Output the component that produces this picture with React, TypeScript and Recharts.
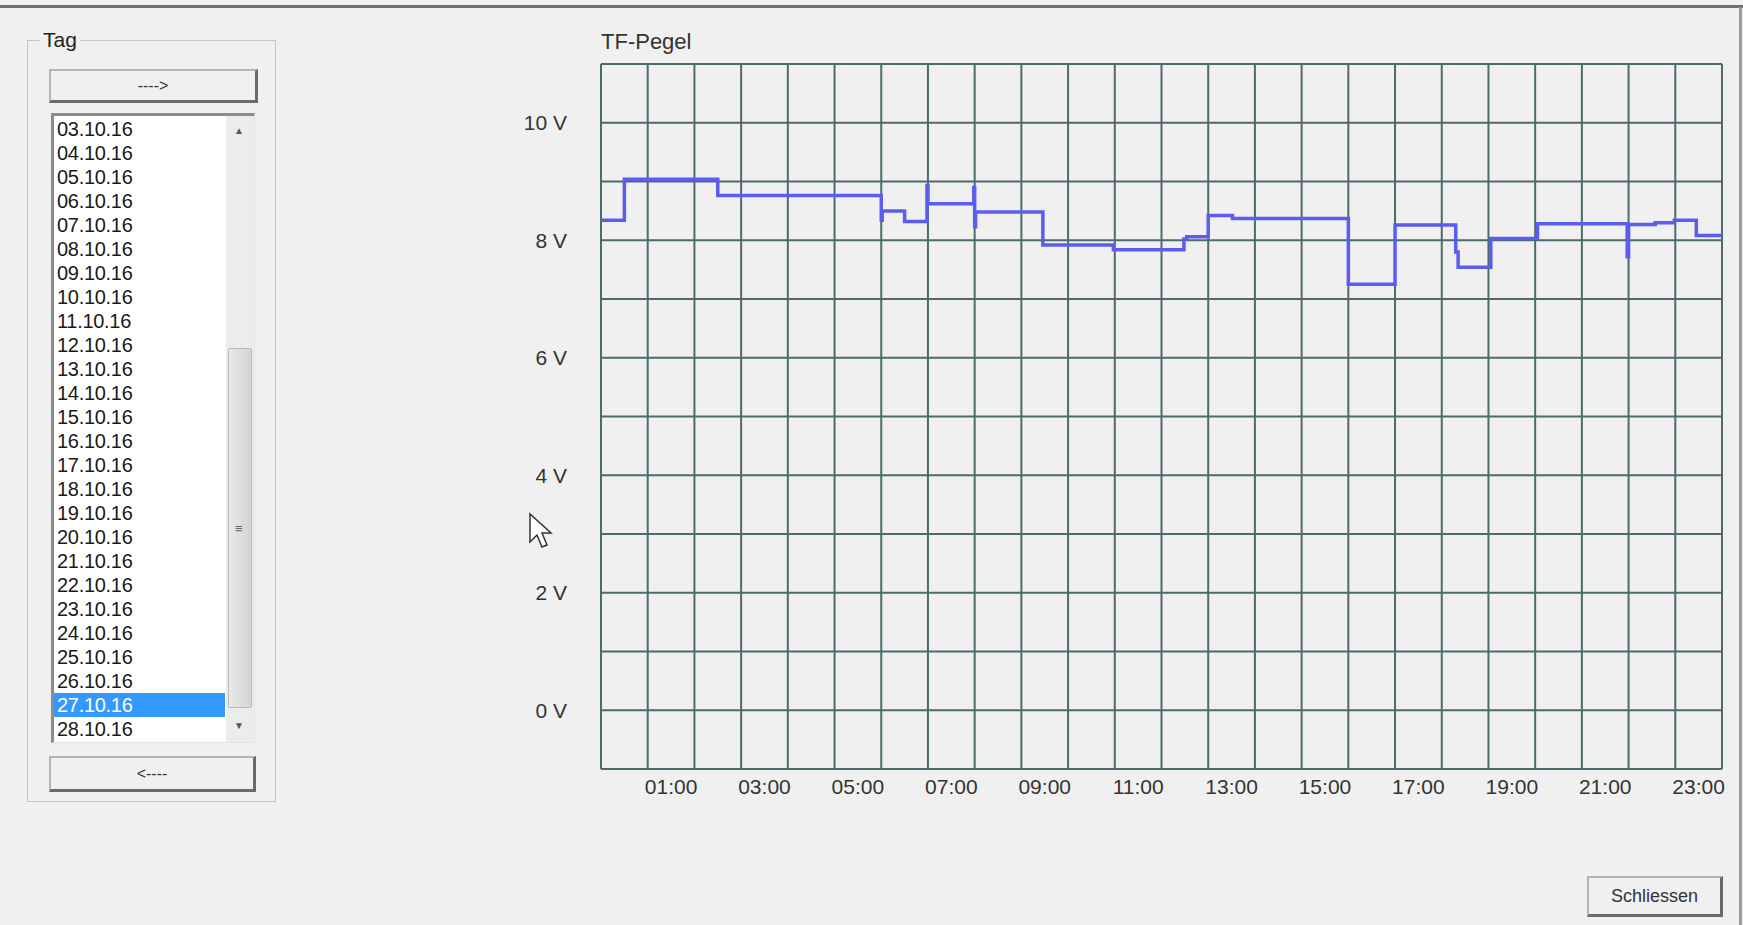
import React from "react";
import { LineChart, Line, XAxis, YAxis, ReferenceLine } from "recharts";

// step points of the TF level (hours, volts)
const hours = [
  -0.5, 0.0, 2.0, 5.5, 5.52, 6.0, 6.48, 6.5, 7.48, 7.5, 7.52, 8.96, 10.47,
  11.98, 12.04, 12.5, 13.02, 15.5, 16.5, 17.8, 17.85, 18.55, 19.55, 21.47,
  21.5, 22.07, 22.48, 22.95, 23.5,
];
const volts = [
  8.34, 9.04, 8.76, 8.34, 8.5, 8.32, 8.93, 8.62, 8.9, 8.23, 8.48, 7.92, 7.84,
  8.02, 8.06, 8.42, 8.37, 7.25, 8.26, 7.8, 7.54, 8.03, 8.28, 7.72, 8.27, 8.3,
  8.34, 8.08, 8.08,
];

const hourTicks = [1, 3, 5, 7, 9, 11, 13, 15, 17, 19, 21, 23];
const hourLabels = ["01:00", "03:00", "05:00", "07:00", "09:00", "11:00", "13:00", "15:00", "17:00", "19:00", "21:00", "23:00"];
const voltTicks = [0, 2, 4, 6, 8, 10];
const voltLabels = ["0 V", "2 V", "4 V", "6 V", "8 V", "10 V"];

const gridX = [
  -0.5, 0.5, 1.5, 2.5, 3.5, 4.5, 5.5, 6.5, 7.5, 8.5, 9.5, 10.5, 11.5, 12.5,
  13.5, 14.5, 15.5, 16.5, 17.5, 18.5, 19.5, 20.5, 21.5, 22.5, 23.5,
];
const gridY = [-1, 0, 1, 2, 3, 4, 5, 6, 7, 8, 9, 10, 11];

const days = [
  "03.10.16", "04.10.16", "05.10.16", "06.10.16", "07.10.16", "08.10.16",
  "09.10.16", "10.10.16", "11.10.16", "12.10.16", "13.10.16", "14.10.16",
  "15.10.16", "16.10.16", "17.10.16", "18.10.16", "19.10.16", "20.10.16",
  "21.10.16", "22.10.16", "23.10.16", "24.10.16", "25.10.16", "26.10.16",
  "27.10.16", "28.10.16",
];
const selectedDay = "27.10.16";

const data = hours.map((t, i) => ({ t, v: volts[i] }));

const FONT = "'Liberation Sans', Arial, sans-serif";
const GRID = "#4d6b6b";

const btn: React.CSSProperties = {
  position: "absolute",
  boxSizing: "border-box",
  background: "#f0f0f0",
  borderTop: "2px solid #b4b4b4",
  borderLeft: "2px solid #b4b4b4",
  borderRight: "3px solid #6a6a6a",
  borderBottom: "3px solid #6a6a6a",
  display: "flex",
  alignItems: "center",
  justifyContent: "center",
  fontSize: 16,
  color: "#333",
};

export default function App() {
  return (
    <div
      style={{
        position: "absolute",
        left: 0,
        top: 0,
        width: 1743,
        height: 925,
        background: "#f0f0f0",
        fontFamily: FONT,
        overflow: "hidden",
      }}
    >
      {/* window edges */}
      <div style={{ position: "absolute", left: 0, top: 5, width: 1743, height: 3, background: "#6e6e6e" }} />
      <div style={{ position: "absolute", left: 1739, top: 7, width: 3, height: 918, background: "#9a9a9a" }} />

      {/* group box "Tag" */}
      <div
        style={{
          position: "absolute",
          left: 27,
          top: 40,
          width: 249,
          height: 762,
          boxSizing: "border-box",
          border: "1px solid #c4c4c4",
        }}
      />
      <div style={{ position: "absolute", left: 40, top: 28, padding: "0 3px", background: "#f0f0f0", fontSize: 21, color: "#222" }}>
        Tag
      </div>

      <div style={{ ...btn, left: 49, top: 69, width: 209, height: 34 }}>----&gt;</div>

      {/* list box */}
      <div
        style={{
          position: "absolute",
          left: 51,
          top: 113,
          width: 204,
          height: 630,
          boxSizing: "border-box",
          background: "#fff",
          borderTop: "3px solid #8c8c8c",
          borderLeft: "3px solid #8c8c8c",
          borderRight: "1px solid #e3e3e3",
          borderBottom: "1px solid #e3e3e3",
          overflow: "hidden",
        }}
      >
        {days.map((d, i) => (
          <div
            key={d}
            style={{
              position: "absolute",
              left: 0,
              top: 1 + i * 24,
              width: 171,
              height: 24,
              lineHeight: "24px",
              paddingLeft: 3,
              boxSizing: "border-box",
              fontSize: 20,
              letterSpacing: -0.3,
              background: d === selectedDay ? "#3399ff" : "transparent",
              color: d === selectedDay ? "#fff" : "#1a1a1a",
            }}
          >
            {d}
          </div>
        ))}
        {/* scrollbar */}
        <div style={{ position: "absolute", left: 172, top: 0, width: 29, height: 626, background: "#ececec" }} />
        <div
          style={{
            position: "absolute",
            left: 174,
            top: 232,
            width: 24,
            height: 360,
            boxSizing: "border-box",
            background: "linear-gradient(to right, #e8e8e8, #d4d4d4)",
            border: "1px solid #b8b8b8",
            borderRadius: 2,
          }}
        />
        <div style={{ position: "absolute", left: 181, top: 405, fontSize: 13, color: "#666" }}>≡</div>
        <div style={{ position: "absolute", left: 180, top: 9, fontSize: 10, color: "#555" }}>▲</div>
        <div style={{ position: "absolute", left: 180, top: 604, fontSize: 10, color: "#555" }}>▼</div>
      </div>

      <div style={{ ...btn, left: 49, top: 756, width: 207, height: 36 }}>&lt;----</div>

      {/* chart */}
      <div style={{ position: "absolute", left: 601, top: 29, fontSize: 22, color: "#333" }}>TF-Pegel</div>
      <div style={{ position: "absolute", left: 480, top: 20 }}>
        <LineChart width={1260} height={800} data={data} margin={{ top: 44, right: 18, bottom: 0, left: 0 }}>
          <XAxis
            dataKey="t"
            type="number"
            domain={[-0.5, 23.5]}
            allowDataOverflow
            ticks={hourTicks}
            tickFormatter={(v: number) => hourLabels[hourTicks.indexOf(v)] ?? ""}
            axisLine={false}
            tickLine={false}
            tickSize={0}
            tickMargin={10}
            height={51}
            interval={0}
            tick={{ fill: "#333", fontSize: 21, fontFamily: FONT }}
          />
          <YAxis
            type="number"
            domain={[-1, 11]}
            allowDataOverflow
            ticks={voltTicks}
            tickFormatter={(v: number) => voltLabels[voltTicks.indexOf(v)] ?? ""}
            axisLine={false}
            tickLine={false}
            tickSize={0}
            tickMargin={34}
            width={121}
            interval={0}
            tick={{ fill: "#333", fontSize: 21, fontFamily: FONT }}
          />
          {gridX.map((x) => (
            <ReferenceLine key={"x" + x} x={x} stroke={GRID} strokeWidth={2} />
          ))}
          {gridY.map((y) => (
            <ReferenceLine key={"y" + y} y={y} stroke={GRID} strokeWidth={2} />
          ))}
          <Line
            dataKey="v"
            type="stepAfter"
            stroke="#5c5cf0"
            strokeWidth={3.5}
            dot={false}
            isAnimationActive={false}
          />
        </LineChart>
      </div>

      {/* mouse cursor */}
      <svg style={{ position: "absolute", left: 528, top: 512 }} width={26} height={38}>
        <polygon points="2,2 2,30 9,23 14,35 19,33 14,21 23,21" fill="#fff" stroke="#333" strokeWidth={1.5} />
      </svg>

      <div style={{ ...btn, left: 1587, top: 876, width: 136, height: 41, fontSize: 18 }}>Schliessen</div>
    </div>
  );
}
